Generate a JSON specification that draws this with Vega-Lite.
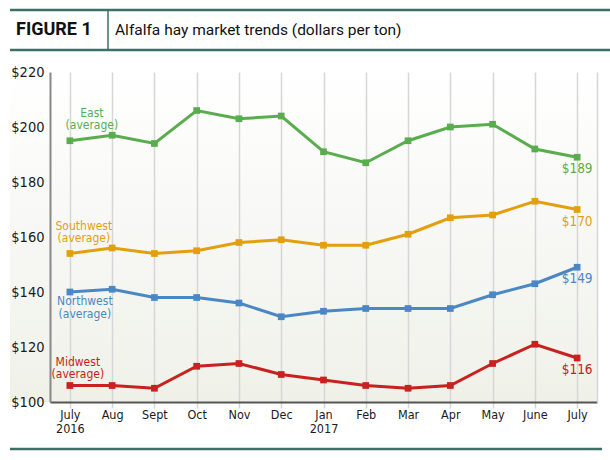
{
  "$schema": "https://vega.github.io/schema/vega-lite/v6.json",
  "background": "white",
  "padding": {"left": 8, "top": 8, "right": 0, "bottom": 0},
  "config": {
    "font": "DejaVu Sans Condensed, Liberation Sans Narrow, sans-serif",
    "view": {"stroke": null},
    "text": {"lineBreak": "\n"}
  },
  "datasets": {
    "header": [
      {"part": "FIGURE 1"},
      {"part": "Alfalfa hay market trends (dollars per ton)"}
    ],
    "prices": [
      {"month": "July 2016", "region": "East", "price": 195},
      {"month": "Aug", "region": "East", "price": 197},
      {"month": "Sept", "region": "East", "price": 194},
      {"month": "Oct", "region": "East", "price": 206},
      {"month": "Nov", "region": "East", "price": 203},
      {"month": "Dec", "region": "East", "price": 204},
      {"month": "Jan 2017", "region": "East", "price": 191},
      {"month": "Feb", "region": "East", "price": 187},
      {"month": "Mar", "region": "East", "price": 195},
      {"month": "Apr", "region": "East", "price": 200},
      {"month": "May", "region": "East", "price": 201},
      {"month": "June", "region": "East", "price": 192},
      {"month": "July", "region": "East", "price": 189},
      {"month": "July 2016", "region": "Southwest", "price": 154},
      {"month": "Aug", "region": "Southwest", "price": 156},
      {"month": "Sept", "region": "Southwest", "price": 154},
      {"month": "Oct", "region": "Southwest", "price": 155},
      {"month": "Nov", "region": "Southwest", "price": 158},
      {"month": "Dec", "region": "Southwest", "price": 159},
      {"month": "Jan 2017", "region": "Southwest", "price": 157},
      {"month": "Feb", "region": "Southwest", "price": 157},
      {"month": "Mar", "region": "Southwest", "price": 161},
      {"month": "Apr", "region": "Southwest", "price": 167},
      {"month": "May", "region": "Southwest", "price": 168},
      {"month": "June", "region": "Southwest", "price": 173},
      {"month": "July", "region": "Southwest", "price": 170},
      {"month": "July 2016", "region": "Northwest", "price": 140},
      {"month": "Aug", "region": "Northwest", "price": 141},
      {"month": "Sept", "region": "Northwest", "price": 138},
      {"month": "Oct", "region": "Northwest", "price": 138},
      {"month": "Nov", "region": "Northwest", "price": 136},
      {"month": "Dec", "region": "Northwest", "price": 131},
      {"month": "Jan 2017", "region": "Northwest", "price": 133},
      {"month": "Feb", "region": "Northwest", "price": 134},
      {"month": "Mar", "region": "Northwest", "price": 134},
      {"month": "Apr", "region": "Northwest", "price": 134},
      {"month": "May", "region": "Northwest", "price": 139},
      {"month": "June", "region": "Northwest", "price": 143},
      {"month": "July", "region": "Northwest", "price": 149},
      {"month": "July 2016", "region": "Midwest", "price": 106},
      {"month": "Aug", "region": "Midwest", "price": 106},
      {"month": "Sept", "region": "Midwest", "price": 105},
      {"month": "Oct", "region": "Midwest", "price": 113},
      {"month": "Nov", "region": "Midwest", "price": 114},
      {"month": "Dec", "region": "Midwest", "price": 110},
      {"month": "Jan 2017", "region": "Midwest", "price": 108},
      {"month": "Feb", "region": "Midwest", "price": 106},
      {"month": "Mar", "region": "Midwest", "price": 105},
      {"month": "Apr", "region": "Midwest", "price": 106},
      {"month": "May", "region": "Midwest", "price": 114},
      {"month": "June", "region": "Midwest", "price": 121},
      {"month": "July", "region": "Midwest", "price": 116}
    ],
    "labels": [
      {"region": "East", "label": "East\n(average)", "month": "July 2016", "price": 195},
      {"region": "Southwest", "label": "Southwest\n(average)", "month": "July 2016", "price": 154},
      {"region": "Northwest", "label": "Northwest\n(average)", "month": "July 2016", "price": 140},
      {"region": "Midwest", "label": "Midwest\n(average)", "month": "July 2016", "price": 106}
    ]
  },
  "spacing": 12,
  "vconcat": [
    {
      "width": 602,
      "height": 40,
      "data": {"name": "header"},
      "layer": [
        {
          "data": {"values": [{"edge": "top"}, {"edge": "bottom"}]},
          "mark": {"type": "rule", "color": "#3d6f66", "strokeWidth": 2.5},
          "encoding": {
            "y": {"field": "edge", "type": "nominal", "scale": {"type": "point", "domain": ["top", "bottom"], "padding": 0}, "axis": null}
          }
        },
        {
          "transform": [{"filter": "datum.part == 'FIGURE 1'"}],
          "mark": {"type": "text", "align": "left", "baseline": "middle", "font": "Roboto", "fontWeight": "bold", "fontSize": 18, "color": "#111111"},
          "encoding": {
            "x": {"field": "part", "type": "nominal", "scale": {"type": "point", "domain": ["FIGURE 1", "Alfalfa hay market trends (dollars per ton)"], "range": [6, 105], "padding": 0}, "axis": null},
            "text": {"field": "part"}
          }
        },
        {
          "transform": [{"filter": "datum.part != 'FIGURE 1'"}],
          "mark": {"type": "text", "align": "left", "baseline": "middle", "font": "Roboto", "fontSize": 15.5, "color": "#111111"},
          "encoding": {
            "x": {"field": "part", "type": "nominal", "axis": null},
            "text": {"field": "part"}
          }
        },
        {
          "transform": [{"filter": "datum.part != 'FIGURE 1'"}],
          "mark": {"type": "rule", "color": "#3d6f66", "strokeWidth": 1.5, "xOffset": -7},
          "encoding": {
            "x": {"field": "part", "type": "nominal", "axis": null}
          }
        }
      ]
    },
    {
      "width": 587,
      "height": 330,
      "view": {
        "stroke": null,
        "fill": {"gradient": "linear", "x1": 0, "y1": 0, "x2": 0, "y2": 1, "stops": [{"offset": 0, "color": "#ffffff"}, {"offset": 1, "color": "#eff1e9"}]}
      },
      "data": {"name": "prices"},
      "encoding": {
        "x": {
          "field": "month", "type": "ordinal", "sort": null,
          "scale": {"type": "point", "domain": ["July 2016", "Aug", "Sept", "Oct", "Nov", "Dec", "Jan 2017", "Feb", "Mar", "Apr", "May", "June", "July"], "range": [40, 587], "padding": 0.47},
          "axis": {
            "title": null, "labelAngle": 0, "labelExpr": "split(datum.label, ' ')",
            "labelFontSize": 12.5, "labelColor": "#1a1a1a", "labelLineHeight": 14.5, "labelPadding": 0,
            "grid": true, "gridColor": "#d6d6d6", "gridWidth": 1.5,
            "tickColor": "#d6d6d6", "tickSize": 6, "tickWidth": 1.5,
            "domainColor": "#555555", "domainWidth": 2
          }
        },
        "y": {
          "field": "price", "type": "quantitative",
          "scale": {"domain": [100, 220], "nice": false, "zero": false}
        }
      },
      "layer": [
        {
          "encoding": {
            "y": {
              "field": "price", "type": "quantitative",
              "axis": {
                "title": null, "values": [100, 120, 140, 160, 180, 200, 220], "format": "$.0f",
                "labelFontSize": 14.5, "labelColor": "#1a1a1a", "labelPadding": 6, "offset": -40,
                "ticks": false, "grid": false, "domainColor": "#888888", "domainWidth": 2
              }
            },
            "color": {
              "field": "region", "type": "nominal",
              "scale": {"domain": ["East", "Southwest", "Northwest", "Midwest"], "range": ["#5aad4e", "#e39f0e", "#4b87c5", "#c8211f"]},
              "legend": null
            }
          },
          "layer": [
            {"mark": {"type": "line", "strokeWidth": 3}},
            {"mark": {"type": "square", "size": 45, "opacity": 1, "filled": true}},
            {
              "transform": [{"filter": "datum.month == 'July'"}],
              "mark": {"type": "text", "dy": 12, "fontSize": 13.5, "baseline": "middle", "align": "center"},
              "encoding": {"text": {"field": "price", "type": "quantitative", "format": "$.0f"}}
            },
            {
              "data": {"name": "labels"},
              "transform": [{"filter": "datum.region == 'East'"}],
              "mark": {"type": "text", "dx": 22, "dy": -28, "fontSize": 12, "lineHeight": 12.5, "baseline": "middle", "align": "center"},
              "encoding": {"text": {"field": "label"}}
            },
            {
              "data": {"name": "labels"},
              "transform": [{"filter": "datum.region == 'Southwest'"}],
              "mark": {"type": "text", "dx": 14, "dy": -28, "fontSize": 12, "lineHeight": 12.5, "baseline": "middle", "align": "center"},
              "encoding": {"text": {"field": "label"}}
            },
            {
              "data": {"name": "labels"},
              "transform": [{"filter": "datum.region == 'Northwest'"}],
              "mark": {"type": "text", "dx": 15, "dy": 9, "fontSize": 12, "lineHeight": 12.5, "baseline": "middle", "align": "center"},
              "encoding": {"text": {"field": "label"}}
            },
            {
              "data": {"name": "labels"},
              "transform": [{"filter": "datum.region == 'Midwest'"}],
              "mark": {"type": "text", "dx": 8, "dy": -24, "fontSize": 12, "lineHeight": 12.5, "baseline": "middle", "align": "center"},
              "encoding": {"text": {"field": "label"}}
            }
          ]
        },
        {
          "mark": {"type": "rule", "opacity": 0},
          "encoding": {
            "y": {"field": "price", "type": "quantitative", "axis": {"orient": "right", "labels": false, "ticks": false, "grid": false, "title": null, "domainColor": "#d6d6d6", "domainWidth": 1.5}}
          }
        }
      ],
      "resolve": {"axis": {"y": "independent"}}
    },
    {
      "width": 592,
      "height": 2,
      "data": {"values": [{"edge": "bottom"}]},
      "mark": {"type": "rule", "color": "#3d6f66", "strokeWidth": 2.5},
      "encoding": {
        "y": {"field": "edge", "type": "nominal", "scale": {"type": "point", "domain": ["top", "bottom"], "padding": 0}, "axis": null}
      }
    }
  ]
}
